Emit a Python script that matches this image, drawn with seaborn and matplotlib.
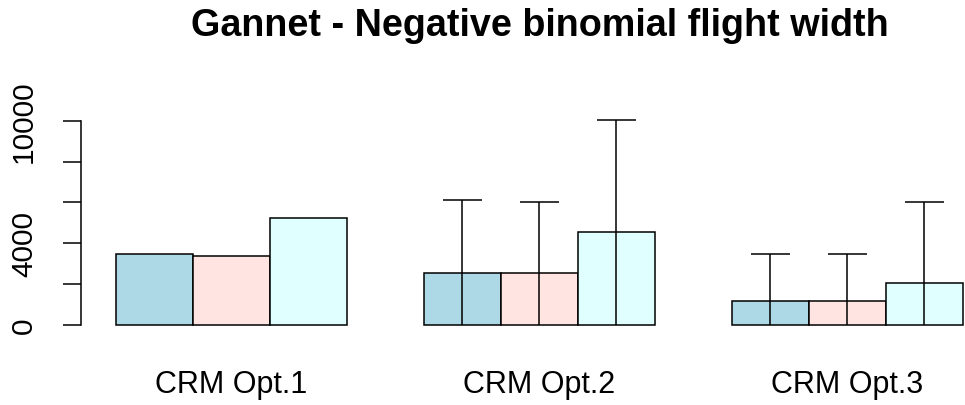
import matplotlib
matplotlib.use("Agg")
import matplotlib.pyplot as plt
import numpy as np
import pandas as pd
import seaborn as sns

# Mean flight-width collision estimates per CRM option, with upper bounds
groups = ["CRM Opt.1", "CRM Opt.2", "CRM Opt.3"]
series = ["Model A", "Model B", "Model C"]
model_a = [3450, 2550, 1180]
model_b = [3350, 2550, 1180]
model_c = [5240, 4530, 2070]
lower_a = [3450, 0, 0]
lower_b = [3350, 0, 0]
lower_c = [5240, 0, 0]
upper_a = [3450, 6130, 3450]
upper_b = [3350, 6010, 3450]
upper_c = [5240, 10050, 6010]
y_ticks = [0, 2000, 4000, 6000, 8000, 10000]
y_tick_labels = ["0", "", "4000", "", "", "10000"]
colors = ["#ADD8E6", "#FFE4E1", "#E0FFFF"]

values = [model_a, model_b, model_c]
lowers = [lower_a, lower_b, lower_c]
uppers = [upper_a, upper_b, upper_c]

df = pd.DataFrame({
    "group": groups * 3,
    "series": [s for s in series for _ in groups],
    "value": [v for vals in values for v in vals],
})

sns.set_theme(style="white")
plt.rcParams["font.family"] = ["Liberation Sans", "DejaVu Sans"]

fig = plt.figure(figsize=(9.65, 4.06), dpi=100)
ax = fig.add_axes([0, 0.1978, 1, 0.5017])

sns.barplot(data=df, x="group", y="value", hue="series", order=groups,
            hue_order=series, palette=colors, width=0.75, gap=0,
            edgecolor="black", linewidth=1.1, errorbar=None, ax=ax,
            legend=False, saturation=1)

# Error bars: a line from the lower to the upper bound with a cap half a bar wide
for cont, lo_vals, up_vals in zip(ax.containers, lowers, uppers):
    for bar, lo, up in zip(cont, lo_vals, up_vals):
        if up <= lo:
            continue
        xc = bar.get_x() + bar.get_width() / 2
        w = bar.get_width()
        ax.vlines(xc, lo, up, color="black", linewidth=1.1, clip_on=False)
        ax.hlines(up, xc - w / 4, xc + w / 4, color="black", linewidth=1.1,
                  clip_on=False)

ax.set_xlim(-0.7504, 2.3815)
ax.set_ylim(0, 10000)
ax.set_xlabel("")
ax.set_ylabel("")

for side in ["top", "right", "bottom"]:
    ax.spines[side].set_visible(False)
ax.spines["left"].set_position(("data", -0.4875))
ax.spines["left"].set_bounds(0, 10000)
ax.spines["left"].set_linewidth(1.1)
ax.spines["left"].set_color("black")

ax.set_yticks(y_ticks)
ax.set_yticklabels(y_tick_labels, rotation=90, va="center", fontsize=21.5)
ax.tick_params(axis="y", direction="out", length=13, width=1.1,
               color="black", pad=18, left=True)
ax.tick_params(axis="x", length=0, pad=32, labelsize=22)
for t in ax.get_xticklabels():
    t.set_color("black")
for t in ax.get_yticklabels():
    t.set_color("black")

for p in ax.patches:
    p.set_clip_on(False)

fig.text(539.5 / 965, 1 - 36.5 / 406, "Gannet - Negative binomial flight width",
         ha="center", va="baseline", fontsize=27.2, fontweight="bold",
         color="black")

fig.savefig("out.png", dpi=100, facecolor="white")
